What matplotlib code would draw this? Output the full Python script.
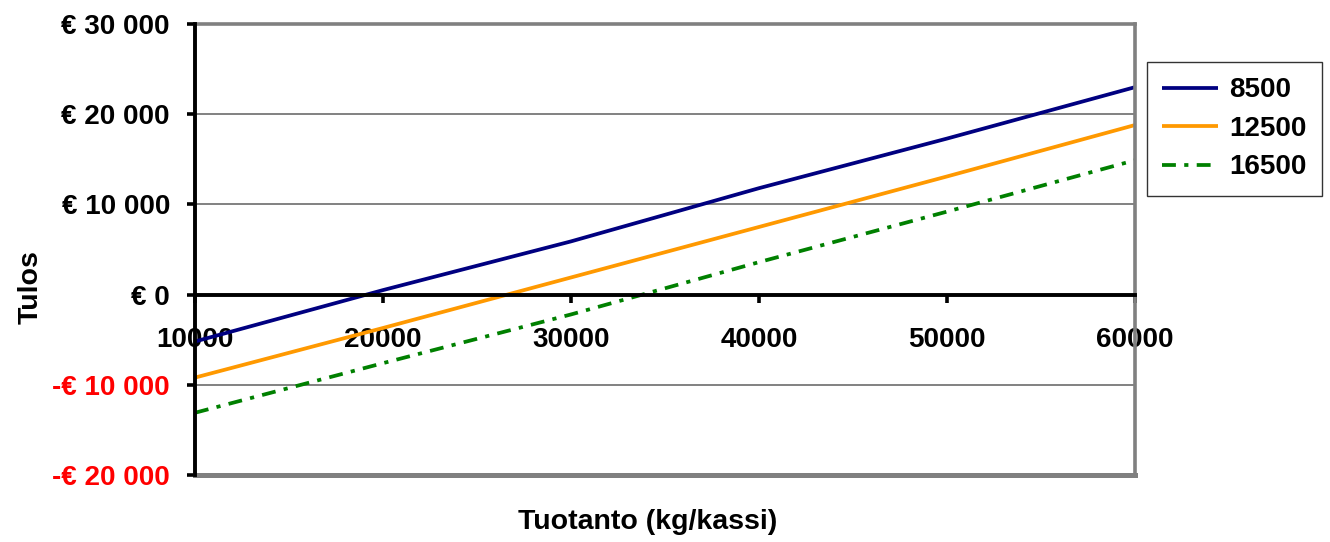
import matplotlib
matplotlib.use("Agg")
import matplotlib.pyplot as plt
from matplotlib.ticker import FuncFormatter

# Tuotanto (kg/kassi)
tuotanto = [10000, 20000, 30000, 40000, 50000, 60000]

# Tulos per fixed cost level
tulos_8500 = [-5200, 500, 5900, 11800, 17300, 23000]
tulos_12500 = [-9200, -3700, 1900, 7500, 13100, 18800]
tulos_16500 = [-13100, -7600, -2200, 3600, 9200, 14900]

series_names = ["8500", "12500", "16500"]
y_ticks = [-20000, -10000, 0, 10000, 20000, 30000]
x_ticks = [10000, 20000, 30000, 40000, 50000, 60000]

plt.rcParams["font.family"] = ["Liberation Sans", "DejaVu Sans"]
plt.rcParams["font.weight"] = "bold"
plt.rcParams["lines.scale_dashes"] = False

fig = plt.figure(figsize=(13.3, 5.42), dpi=100)
ax = fig.add_axes([0.1466, 0.1236, 0.7068, 0.8321])

lw = 2.7
ax.plot(tuotanto, tulos_8500, color="#000080", lw=lw, label=series_names[0], solid_capstyle="butt")
ax.plot(tuotanto, tulos_12500, color="#FF9900", lw=lw, label=series_names[1], solid_capstyle="butt")
ax.plot(tuotanto, tulos_16500, color="#008000", lw=lw, label=series_names[2],
        linestyle=(0, (10.0, 6.0, 3.0, 6.0)))

ax.set_xlim(10000, 60000)
ax.set_ylim(-20000, 30000)

# gridlines
ax.set_yticks(y_ticks)
ax.set_xticks(x_ticks)
ax.yaxis.grid(True, color="#777777", lw=1.3)
ax.set_axisbelow(True)

def euro(v, pos):
    s = f"{abs(int(v)):,}".replace(",", " ")
    return ("-€ " if v < 0 else "€ ") + s

ax.yaxis.set_major_formatter(FuncFormatter(euro))
ax.xaxis.set_major_formatter(FuncFormatter(lambda v, p: f"{int(v)}"))

ax.tick_params(axis="y", length=6, width=2.6, pad=12, labelsize=20, direction="out")
ax.tick_params(axis="x", length=6, width=2.6, pad=17, labelsize=20, direction="out")
for lab in ax.get_yticklabels():
    lab.set_fontweight("bold")
    if lab.get_text().startswith("-"):
        lab.set_color("red")
for lab in ax.get_xticklabels():
    lab.set_fontweight("bold")

# spines: black axes, gray plot border
ax.spines["left"].set_color("black")
ax.spines["left"].set_linewidth(2.8)
ax.spines["left"].set_zorder(5)
ax.spines["bottom"].set_position(("data", 0))
ax.spines["bottom"].set_color("black")
ax.spines["bottom"].set_linewidth(2.8)
for side in ["top", "right"]:
    ax.spines[side].set_color("#808080")
    ax.spines[side].set_linewidth(2.6)
ax.axhline(-20000, color="#808080", lw=3.6, clip_on=False, zorder=1)

fig.text(648 / 1330, 0.036, "Tuotanto (kg/kassi)", ha="center", va="center",
         fontsize=20.5, fontweight="bold")
fig.text(0.023, 0.47, "Tulos", ha="center", va="center", rotation=90,
         fontsize=20.5, fontweight="bold")

leg = ax.legend(loc="upper left", bbox_to_anchor=(1147 / 1330, 1 - 62 / 542),
                bbox_transform=fig.transFigure, frameon=True, fancybox=False,
                edgecolor="black", prop={"size": 20, "weight": "bold"},
                handlelength=2.0, handletextpad=0.4, labelspacing=0.45,
                borderpad=0.55, borderaxespad=0)
leg.get_frame().set_linewidth(1.0)

fig.savefig("out.png", dpi=100)
